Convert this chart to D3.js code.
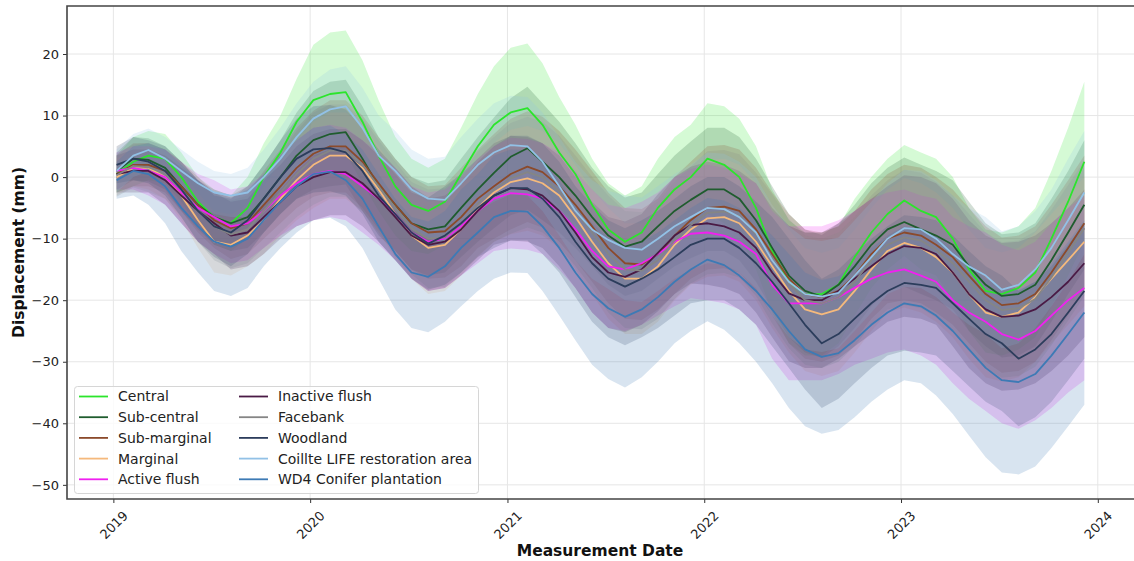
<!DOCTYPE html>
<html>
<head>
<meta charset="utf-8">
<script src="https://cdn.jsdelivr.net/npm/d3@7"></script>
<style>
    body { margin: 0; background: #fff; }
    svg { display: block; font-family: 'DejaVu Sans', sans-serif; }
</style>
</head>
<body>
<div id="chart"></div>
<script>
'use strict';

// monthly samples, Jan 2019 .. Dec 2023 (mm)
const central = [0.5, 2.5, 3.5, 3, 0, -4, -6.5, -7.5, -5, 0, 4, 9,
    12.5, 13.5, 13.8, 9, 3.5, -1.5, -4.5, -5.5, -4, 0.5, 5, 8.5,
    10.5, 11.2, 8.5, 4, 0.5, -4.5, -8.5, -10.5, -9, -5, -2, 0,
    3, 2, 0, -5, -12, -17, -19, -19, -17.5, -13, -9, -6,
    -3.8, -5.5, -6.5, -10, -15, -18.5, -19, -18, -15.5, -10, -4, 2.5];
const subCentral = [1, 3, 2.8, 1.5, -1.5, -4.5, -6.5, -7.5, -6.5, -3.5, 0, 3.5,
    6, 7, 7.3, 3, -1.5, -4.5, -7.5, -8.5, -8, -5, -2, 0.7,
    3.3, 4.7, 2.5, 0, -3, -6.5, -9.5, -11.3, -10.5, -8, -5.5, -3.7,
    -2, -2, -3.5, -7, -11.5, -16, -18.5, -19.4, -17.5, -14.5, -11, -8.5,
    -7.3, -8.5, -9.5, -11, -14.5, -17.5, -19.3, -19, -17.5, -13.5, -9, -4.5];
const subMarginal = [0.5, 2, 2, 1, -1.5, -4.5, -7, -8.3, -7.5, -4.5, -1.5, 1.5,
    3.8, 5, 5, 2.5, -1, -4.5, -7.5, -9, -8.8, -6.5, -3.5, -1.5,
    0.5, 1.7, 0.8, -1.5, -4.5, -8, -11.5, -14, -14.2, -12.5, -9.5, -7,
    -5, -4.8, -5.5, -8.5, -12.5, -16.5, -19, -19.5, -18.5, -16, -12.5, -10,
    -9, -9.5, -11, -13, -16, -19, -20.8, -20.5, -19, -15.5, -11.5, -7.5];
const marginal = [0, 1.5, 1.5, 0, -3, -7, -10.5, -11, -9.5, -7, -3.5, -0.5,
    2, 3.5, 3.5, 1.5, -2, -6, -9.5, -11.5, -11, -8.5, -5, -2.5,
    -0.8, -0.2, -1, -3, -6.5, -10.5, -14, -16.5, -16.5, -14.5, -11, -8.5,
    -6.7, -6.5, -7.5, -10.5, -14.5, -18.5, -21.5, -22.3, -21.5, -18.5, -15, -12,
    -10.7, -11.5, -13, -15.5, -19, -22, -22.7, -22, -19.5, -16.5, -13.5, -10.5];
const activeFlush = [1, 1.5, 1, 0, -2.5, -5, -6.5, -8, -7.5, -5.5, -3, -1,
    0.5, 1, 0.5, -1.5, -3.5, -6, -9, -10.5, -10, -8, -5.5, -3.5,
    -2.6, -2.8, -3.5, -5.5, -8.5, -12, -14.5, -15, -14, -12.5, -10.5, -9.2,
    -9, -9.5, -10.5, -12.5, -17.5, -20.5, -20.5, -20.5, -19.5, -18, -16.5, -15.5,
    -15, -16, -17, -20, -22, -23.5, -25.5, -26.4, -25, -22.5, -20, -18];
const inactiveFlush = [0.5, 1, 1, -0.5, -3, -5.5, -7.5, -9.5, -9, -6.5, -4, -1.5,
    0, 0.8, 0.8, -1, -3.5, -6.5, -9.5, -11, -10.5, -8.5, -5.5, -3,
    -1.8, -2, -3, -5.5, -9, -13, -15.5, -16.2, -15, -12.3, -9.5, -7.8,
    -7.5, -8, -9, -11.5, -15.5, -18.9, -20, -20, -18.5, -16.5, -14.5, -12.5,
    -11.2, -11.5, -12.5, -15.5, -19, -21.5, -22.7, -22.5, -21.5, -19.5, -17, -14];
const facebank = [0.3, 1.8, 1.6, 0.5, -2, -5.5, -8, -9.3, -8.5, -5.5, -2.5, 0.5,
    3, 4.3, 4.3, 2, -1.5, -5, -8.3, -10, -9.8, -7.5, -4.3, -2,
    -0.2, 0.8, 0, -2.3, -5.5, -9, -12.5, -15, -15.2, -13.5, -10.3, -7.8,
    -5.8, -5.6, -6.3, -9.3, -13.3, -17.3, -20, -20.5, -19.5, -17, -13.5, -11,
    -9.8, -10.3, -11.8, -14, -17, -20, -21.6, -21.3, -19.8, -16.3, -12.3, -8.3];
const woodland = [2, 3, 2.5, 1, -2, -5.5, -8, -9, -7, -3.5, 0, 3,
    4.5, 4.7, 4, 1, -3, -6, -9, -10.8, -9.5, -7.5, -5, -3,
    -1.8, -1.8, -3.5, -6.5, -10.5, -14, -16.5, -17.8, -16.5, -15, -13, -11,
    -10, -10, -11.5, -14, -17, -20.5, -24, -27, -25.5, -23, -20.5, -18.5,
    -17.2, -17.5, -18, -20.5, -23, -25.5, -27, -29.5, -28, -25.5, -22, -18.5];
const coillte = [1, 3.5, 4.4, 3, 1, -1, -2.5, -3, -2.5, 0, 3, 6.5,
    9.5, 11, 11.5, 8, 3.5, 1, -2, -3.5, -3.7, -1, 2, 4,
    5.2, 5, 2.5, -1.5, -5.5, -8.5, -10.2, -11.5, -11.8, -10, -8, -6.5,
    -5, -5.2, -6.5, -9, -13.5, -17, -19, -19.4, -18.8, -16, -13, -10,
    -8.3, -8.5, -10, -12.5, -14.5, -16, -18.3, -17.5, -15, -11.5, -7, -2.5];
const wd4 = [-0.5, 1, 0.5, -1.5, -5, -8, -10.5, -11.3, -10, -7, -4, -1.5,
    0.5, 0.9, -0.5, -3.5, -8, -12.5, -15.5, -16.2, -14.5, -11.5, -9, -6.5,
    -5.5, -5.6, -8, -11.5, -15.5, -19, -21.3, -22.7, -21.5, -19.5, -17, -15,
    -13.4, -14.3, -16, -18.5, -21.5, -25, -28, -29.2, -28.6, -26.5, -24, -22,
    -20.5, -21, -22.5, -25, -28, -31, -33, -33.3, -32, -29, -25.5, -22];

// half-width of the shaded band around each mean (mm)
const centralSd = [3, 4, 4, 4, 4, 4, 4.5, 4.5, 5, 5.5, 6, 7,
    9, 10, 10, 10, 9, 8, 7.5, 7, 7, 7.5, 8.5, 9.5,
    10.5, 10.5, 10, 9, 8, 7.5, 7.5, 7.5, 7.5, 8, 8.5, 8.5,
    9, 9.5, 9.5, 10, 10, 10, 10, 10, 9.5, 9.5, 9, 9,
    9, 9.5, 9.5, 10, 10, 10, 10, 10, 10.5, 11, 12, 13];
const subCentralSd = [3, 3.5, 3.5, 3.5, 4, 4, 4.5, 4.5, 5, 5.5, 6, 7,
    8, 8.5, 8.5, 8.5, 8, 7.5, 7.5, 7.5, 7.5, 8, 8.5, 9,
    9.5, 10, 9.5, 9, 8.5, 8, 8, 8, 8, 8.5, 9, 9.5,
    10, 10, 10, 10, 10, 10, 10, 10, 10, 10, 10, 10,
    10.5, 10.5, 10.5, 10.5, 10.5, 10, 10, 10, 10, 10, 10, 10.5];
const subMarginalSd = [3, 3.5, 3.5, 3.5, 4, 4.5, 4.5, 5, 5, 5.5, 6, 6.5,
    7, 7.5, 7.5, 7.5, 7.5, 7.5, 7.5, 7.5, 7.5, 8, 8, 8.5,
    9, 9, 9, 9, 9, 9, 9, 9, 9, 9, 9.5, 9.5,
    10, 10, 10, 10, 10, 10.5, 10.5, 10.5, 10.5, 10.5, 10.5, 10.5,
    11, 11, 11, 11, 11, 11, 11, 11, 11, 11, 11, 11];
const marginalSd = [3, 3, 3.5, 3.5, 4, 4.5, 5, 5, 5, 5.5, 6, 6.5,
    7, 7, 7, 7, 7, 7, 7, 7.5, 7.5, 7.5, 8, 8,
    8.5, 8.5, 8.5, 8.5, 8.5, 8.5, 9, 9, 9, 9, 9, 9,
    9.5, 9.5, 9.5, 9.5, 10, 10, 10, 10, 10, 10, 10, 10,
    10.5, 10.5, 10.5, 10.5, 10.5, 10.5, 10.5, 10.5, 10.5, 10.5, 10.5, 10.5];
const activeFlushSd = [3, 3.5, 4, 4.5, 5, 5.5, 6, 6, 6, 6, 6.5, 7,
    7.5, 7.5, 7.5, 7.5, 7.5, 7.5, 7.5, 8, 8, 8, 8.5, 8.5,
    9, 9, 9, 9.5, 9.5, 10, 10, 10, 10, 10, 10.5, 10.5,
    11, 11, 11, 11.5, 12, 12.5, 12.5, 12.5, 12.5, 12.5, 13, 13,
    13, 13, 13.5, 13.5, 14, 14.5, 14.5, 14.5, 14.5, 15, 15, 15];
const inactiveFlushSd = [3, 3.5, 3.5, 4, 4.5, 5, 5, 5.5, 5.5, 6, 6, 6.5,
    7, 7, 7, 7, 7, 7, 7, 7.5, 7.5, 7.5, 8, 8,
    8.5, 8.5, 8.5, 9, 9, 9, 9, 9, 9, 9.5, 9.5, 9.5,
    10, 10, 10, 10.5, 10.5, 11, 11, 11, 11, 11, 11, 11,
    11.5, 11.5, 11.5, 12, 12, 12, 12, 12, 12, 12, 12, 12];
const facebankSd = [3.5, 3.5, 4, 4, 4.5, 5, 5.5, 5.5, 5.5, 6, 6.5, 7,
    7.5, 7.5, 7.5, 7.5, 7.5, 7.5, 7.5, 8, 8, 8, 8.5, 8.5,
    9, 9, 9, 9, 9, 9, 9.5, 9.5, 9.5, 9.5, 9.5, 9.5,
    10, 10, 10, 10, 10.5, 10.5, 10.5, 10.5, 10.5, 10.5, 10.5, 10.5,
    11, 11, 11, 11, 11, 11, 11, 11, 11, 11, 11, 11];
const woodlandSd = [3, 3.5, 3.5, 4, 4.5, 5, 5, 5.5, 5.5, 5.5, 6, 6.5,
    7, 7, 7, 7, 7.5, 7.5, 7.5, 7.5, 8, 8, 8, 8.5,
    8.5, 8.5, 9, 9, 9, 9.5, 9.5, 9.5, 9.5, 9.5, 9.5, 9.5,
    10, 10, 10, 10, 10.5, 10.5, 10.5, 10.5, 10.5, 10.5, 10.5, 10.5,
    11, 11, 11, 11, 11, 11, 11, 11, 11, 11, 11, 11];
const coillteSd = [3.5, 3.5, 3.5, 3.5, 3.5, 3.5, 3.5, 3.5, 4, 4.5, 5, 5.5,
    6, 6.5, 6.5, 6.5, 6.5, 6.5, 6.5, 6.5, 7, 7.5, 7.5, 8,
    8, 8, 8, 8, 8, 8, 8, 8.5, 8.5, 8.5, 8.5, 8.5,
    9, 9, 9, 9, 9, 9, 9, 9, 9, 9, 9, 9,
    9.5, 9.5, 9.5, 9.5, 9.5, 9.5, 9.5, 9.5, 9.5, 9.5, 10, 10];
const wd4Sd = [3, 4, 5, 6, 7, 7.5, 8, 8, 8, 7.5, 7.5, 7.5,
    7.5, 7.5, 7.5, 8, 8.5, 9, 9, 9, 9, 9.5, 9.5, 10,
    10, 10, 10.5, 11, 11, 11.5, 11.5, 11.5, 11, 10.5, 10, 10,
    10, 10.5, 11, 11.5, 12, 12.5, 12.5, 12.5, 12.5, 12.5, 12.5, 12.5,
    12.5, 12.5, 13, 13.5, 14, 14.5, 15, 15, 15, 15, 15, 15];

const seriesNames = ['Central', 'Sub-central', 'Sub-marginal', 'Marginal', 'Active flush',
    'Inactive flush', 'Facebank', 'Woodland', 'Coillte LIFE restoration area', 'WD4 Conifer plantation'];
const seriesMeans = [central, subCentral, subMarginal, marginal, activeFlush,
    inactiveFlush, facebank, woodland, coillte, wd4];
const seriesSds = [centralSd, subCentralSd, subMarginalSd, marginalSd, activeFlushSd,
    inactiveFlushSd, facebankSd, woodlandSd, coillteSd, wd4Sd];
const seriesColors = ['#2be52b', '#1f5c2e', '#8b4a2b', '#f5b97c', '#f020f0',
    '#4a1a45', '#858585', '#2c3d5c', '#92c1e6', '#3d7ab5'];

const yTicks = [-50, -40, -30, -20, -10, 0, 10, 20];
const yearTicks = [2019, 2020, 2021, 2022, 2023, 2024];

(function(doc) {

    const width = 1134;
    const height = 561;
    const plot = {left: 67, top: 6, right: 1135, bottom: 499};

    const months = d3.timeMonth.range(new Date(2019, 0, 1), new Date(2024, 0, 1))
        .map((d) => d3.timeDay.offset(d, 6));

    const x = d3.scaleTime()
        .domain([new Date(2018, 9, 7), new Date(2024, 2, 10)])
        .range([plot.left, plot.right]);
    const y = d3.scaleLinear()
        .domain([-52.3, 27.8])
        .range([plot.bottom, plot.top]);

    const svg = d3.select('#chart').append('svg')
        .attr('width', width)
        .attr('height', height);

    svg.append('defs').append('clipPath').attr('id', 'plotClip')
        .append('rect')
        .attr('x', plot.left).attr('y', plot.top)
        .attr('width', plot.right - plot.left)
        .attr('height', plot.bottom - plot.top);

    // grid
    const grid = svg.append('g').attr('stroke', '#e6e6e6').attr('stroke-width', 1);
    for (const t of yTicks) {
        grid.append('line')
            .attr('x1', plot.left).attr('x2', plot.right)
            .attr('y1', y(t)).attr('y2', y(t));
    }
    for (const yr of yearTicks) {
        const xx = x(new Date(yr, 0, 1));
        grid.append('line')
            .attr('x1', xx).attr('x2', xx)
            .attr('y1', plot.top).attr('y2', plot.bottom);
    }

    const bands = svg.append('g').attr('clip-path', 'url(#plotClip)');
    const lines = svg.append('g').attr('clip-path', 'url(#plotClip)');

    const area = d3.area()
        .x((d) => x(d.date))
        .y0((d) => y(d.mean - d.sd))
        .y1((d) => y(d.mean + d.sd));
    const line = d3.line()
        .x((d) => x(d.date))
        .y((d) => y(d.mean));

    seriesNames.forEach((name, i) => {
        const rows = months.map((date, j) => ({
            date: date,
            mean: seriesMeans[i][j],
            sd: seriesSds[i][j]
        }));
        bands.append('path')
            .datum(rows)
            .attr('d', area)
            .attr('fill', seriesColors[i])
            .attr('fill-opacity', 0.2);
        lines.append('path')
            .datum(rows)
            .attr('d', line)
            .attr('fill', 'none')
            .attr('stroke', seriesColors[i])
            .attr('stroke-width', 1.8)
            .attr('stroke-linejoin', 'round');
    });

    // axes
    const yAxis = svg.append('g')
        .attr('transform', `translate(${plot.left},0)`)
        .call(d3.axisLeft(y).tickValues(yTicks).tickSize(4).tickPadding(4)
            .tickFormat((d) => d3.format('d')(d).replace('-', '\u2212')));
    yAxis.select('.domain').remove();
    yAxis.selectAll('text').attr('font-size', 13).attr('fill', '#222')
        .attr('font-family', 'DejaVu Sans');
    yAxis.selectAll('line').attr('stroke', '#333');

    const xAxis = svg.append('g')
        .attr('transform', `translate(0,${plot.bottom})`)
        .call(d3.axisBottom(x).tickValues(yearTicks.map((yr) => new Date(yr, 0, 1)))
            .tickSize(4).tickFormat(d3.timeFormat('%Y')));
    xAxis.select('.domain').remove();
    xAxis.selectAll('line').attr('stroke', '#333');
    xAxis.selectAll('text')
        .attr('font-size', 13).attr('fill', '#222')
        .attr('font-family', 'DejaVu Sans')
        .attr('text-anchor', 'middle')
        .attr('dy', '0.35em')
        .attr('y', 0)
        .attr('transform', 'translate(0,26) rotate(-45)');

    // spines
    const spines = svg.append('g').attr('stroke', '#444').attr('stroke-width', 1.6).attr('fill', 'none');
    spines.append('path')
        .attr('d', `M${plot.right},${plot.top}H${plot.left}V${plot.bottom}H${plot.right}`);

    // axis titles
    svg.append('text')
        .attr('x', (plot.left + plot.right) / 2 - 1)
        .attr('y', 556)
        .attr('text-anchor', 'middle')
        .attr('font-size', 15.5)
        .attr('font-weight', 'bold')
        .attr('fill', '#111')
        .text('Measurement Date');
    svg.append('text')
        .attr('transform', `translate(24,${(plot.top + plot.bottom) / 2}) rotate(-90)`)
        .attr('text-anchor', 'middle')
        .attr('font-size', 15.5)
        .attr('font-weight', 'bold')
        .attr('fill', '#111')
        .text('Displacement (mm)');

    // legend
    const legend = svg.append('g');
    legend.append('rect')
        .attr('x', 74.5).attr('y', 386.5)
        .attr('width', 404).attr('height', 107)
        .attr('rx', 3)
        .attr('fill', '#fff').attr('fill-opacity', 0.8)
        .attr('stroke', '#d6d6d6');
    seriesNames.forEach((name, i) => {
        const col = Math.floor(i / 5);
        const row = i % 5;
        const lx = col === 0 ? 79 : 239;
        const ly = 396.5 + row * 20.7;
        legend.append('line')
            .attr('x1', lx).attr('x2', lx + 29)
            .attr('y1', ly).attr('y2', ly)
            .attr('stroke', seriesColors[i])
            .attr('stroke-width', 1.8);
        legend.append('text')
            .attr('x', lx + 39).attr('y', ly)
            .attr('dy', '0.35em')
            .attr('font-size', 14)
            .attr('fill', '#222')
            .text(name);
    });

}(document));
</script>
</body>
</html>
